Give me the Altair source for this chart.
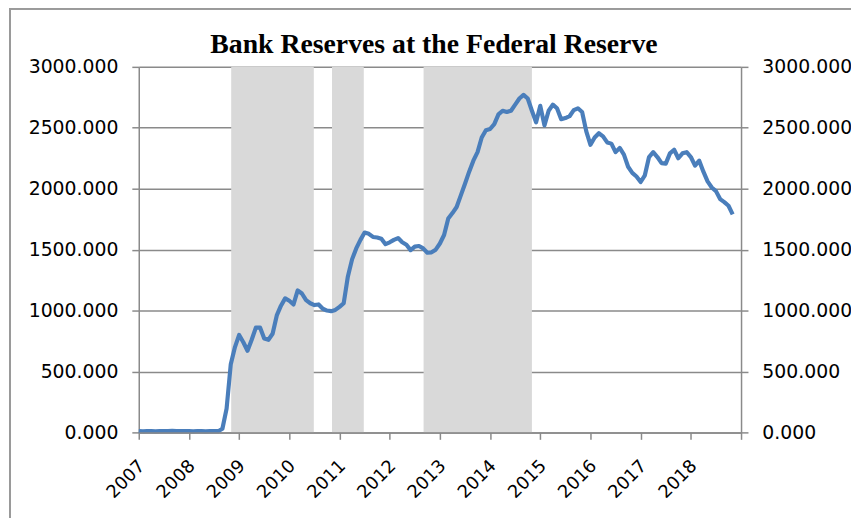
import altair as alt
import pandas as pd

# Monthly reserve balances (billions), Jan 2007 .. Nov 2018
reserves = [
    11, 9, 10, 10, 9, 10, 11, 10, 12, 11, 10, 11,          # 2007
    10, 9, 10, 10, 9, 10, 10, 10, 30, 195, 560, 700,        # 2008
    800, 740, 670, 760, 860, 860, 770, 760, 810, 960, 1040, 1100,   # 2009
    1080, 1050, 1165, 1140, 1085, 1060, 1045, 1050, 1015, 1000, 995, 1005,  # 2010
    1030, 1060, 1280, 1420, 1510, 1580, 1640, 1630, 1604, 1600, 1590, 1545,  # 2011
    1560, 1580, 1595, 1560, 1540, 1496, 1525, 1530, 1510, 1475, 1478, 1500,  # 2012
    1550, 1620, 1755, 1800, 1850, 1945, 2040, 2140, 2230, 2300, 2420, 2480,  # 2013
    2490, 2530, 2610, 2640, 2630, 2640, 2690, 2740, 2770, 2740, 2640, 2545,  # 2014
    2680, 2520, 2640, 2690, 2660, 2570, 2580, 2595, 2645, 2660, 2630, 2470,  # 2015
    2360, 2420, 2455, 2430, 2380, 2370, 2300, 2335, 2280, 2180, 2130, 2100,  # 2016
    2055, 2110, 2260, 2300, 2260, 2210, 2206, 2290, 2320, 2250, 2290, 2300,  # 2017
    2260, 2190, 2230, 2140, 2060, 2010, 1980, 1915, 1890, 1860, 1790,        # 2018
]
months = list(range(len(reserves)))  # months since Jan 2007

# Shaded periods (months since Jan 2007)
shade_start = [22.1, 46.2, 68.1]
shade_end = [41.85, 53.8, 94.0]

year_ticks = [0, 12, 24, 36, 48, 60, 72, 84, 96, 108, 120, 132, 144]
y_ticks = [0, 500, 1000, 1500, 2000, 2500, 3000]
title_text = ["Bank Reserves at the Federal Reserve"]

df = pd.DataFrame({"month": months, "reserves": reserves})
shade_df = pd.DataFrame({"start": shade_start, "end": shade_end})
title_df = pd.DataFrame({"t": title_text})

GRAY = "#8a8a8a"
W, H = 608, 369

xscale = alt.Scale(domain=[0, 144], nice=False, zero=False)
xaxis = alt.Axis(
    values=year_ticks,
    labelExpr="datum.value < 144 ? '' + (2007 + datum.value / 12) : ''",
    labelAngle=315, labelAlign="right", labelBaseline="middle",
    labelFont="DejaVu Sans", labelFontSize=18, labelColor="black",
    labelPadding=24, labelOffset=3, tickSize=7, tickColor=GRAY, tickWidth=1.5,
    domainColor=GRAY, domainWidth=1.5, grid=False, title=None, zindex=1,
    labelOverlap=False,
)

shades = alt.Chart(shade_df).mark_rect(color="#d9d9d9").encode(
    x=alt.X("start:Q", scale=xscale, axis=xaxis),
    x2="end:Q",
    y=alt.value(0),
    y2=alt.value(H),
)

line = alt.Chart(df).mark_line(color="#4a7ebb", strokeWidth=4.2, strokeJoin="round").encode(
    x=alt.X("month:Q", scale=xscale, axis=xaxis),
    y=alt.Y("reserves:Q", scale=alt.Scale(domain=[0, 3000], nice=False),
            axis=alt.Axis(orient="left", values=y_ticks, format=".3f",
                          labelFont="DejaVu Sans", labelFontSize=19, labelColor="black",
                          labelPadding=14, tickSize=7, tickColor=GRAY, tickWidth=1.5,
                          domainColor=GRAY, domainWidth=1.5,
                          grid=True, gridColor=GRAY, gridWidth=1.5, title=None)),
)

right = alt.Chart(df).mark_line(opacity=0).encode(
    x=alt.X("month:Q", scale=xscale, axis=xaxis),
    y=alt.Y("reserves:Q", scale=alt.Scale(domain=[0, 3000], nice=False),
            axis=alt.Axis(orient="right", values=y_ticks, format=".3f",
                          labelFont="DejaVu Sans", labelFontSize=19, labelColor="black",
                          labelPadding=14, tickSize=7, tickColor=GRAY, tickWidth=1.5,
                          domainColor=GRAY, domainWidth=1.5, zindex=1,
                          grid=False, title=None)),
)

title = alt.Chart(title_df).mark_text(
    font="Liberation Serif", fontSize=28, fontWeight="bold", color="black",
    align="center", baseline="alphabetic",
).encode(text="t:N", x=alt.value(298), y=alt.value(-14))

frame_left = alt.Chart(df).mark_rule(color="#9a9a9a", strokeWidth=1.5).encode(
    x=alt.value(-130), y=alt.value(-59), y2=alt.value(470)
)
frame_top = alt.Chart(df).mark_rule(color="#9a9a9a", strokeWidth=1.5).encode(
    x=alt.value(-130), x2=alt.value(740), y=alt.value(-59)
)

chart = (
    alt.layer(frame_left, frame_top, shades, line, right, title)
    .resolve_scale(y="independent")
    .properties(
        width=W, height=H,
        autosize=alt.AutoSizeParams(type="none"),
        padding={"left": 132, "top": 57, "right": 111, "bottom": 84},
    )
    .configure_view(stroke=None)
)

chart.save("out.html", embed_options={"renderer": "svg", "actions": False})
